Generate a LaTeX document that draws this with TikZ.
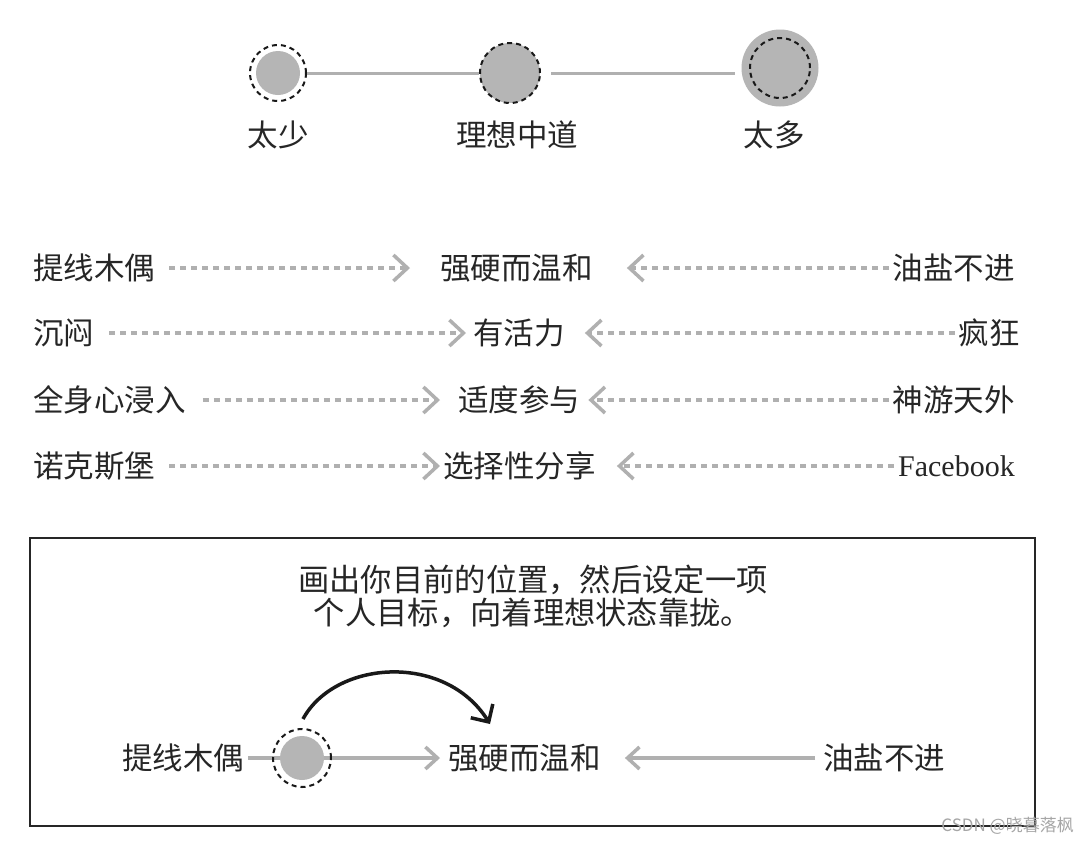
\documentclass[tikz,border=0pt]{standalone}
\usepackage{fontspec}
\setmainfont{Liberation Serif}
\newfontfamily\cjk{Noto Sans CJK SC}
\usetikzlibrary{arrows.meta}
\definecolor{fillg}{HTML}{B5B5B5}
\definecolor{lineg}{HTML}{B0B0B0}
\tikzset{
  txt/.style={inner sep=0pt, font=\cjk\fontsize{30.5}{32}\selectfont, text=black!85},
  dcirc/.style={circle, draw=black!90, dash pattern=on 5pt off 4pt, line width=2pt, inner sep=0pt},
  dasharr/.style={draw=lineg, line width=4.5pt, dash pattern=on 6pt off 5pt,
    -{Straight Barb[length=14pt,width=26pt,line width=3.5pt]}},
  solarr/.style={draw=lineg, line width=3.5pt,
    -{Straight Barb[length=12pt,width=22pt,line width=3.5pt]}},
  conn/.style={draw=lineg, line width=3pt},
}
\begin{document}
\begin{tikzpicture}[x=1pt,y=-1pt]
\useasboundingbox (0,0) rectangle (1090,844);
\fill[white] (0,0) rectangle (1090,844);
% top scale
\fill[fillg] (278,73) circle (22);
\node[dcirc, minimum size=56pt] (tl) at (278,73) {};
\fill[fillg] (510,73) circle (30);
\node[dcirc, minimum size=60pt] (tm) at (510,73) {};
\fill[fillg] (780,68) circle (38.5);
\node[dcirc, minimum size=60pt] (tr) at (780,68) {};
\draw[conn] (tl) -- (tm);
\draw[conn, shorten <=10pt, shorten >=14pt] (tm.east) -- (tm.east -| tr.west);
\node[txt] (ltl) at (278,135) {太少};
\node[txt] (ltm) at (517,135) {理想中道};
\node[txt] (ltr) at (774,135) {太多};
% rows
\node[txt, anchor=west] (l1) at (33,268) {提线木偶};
\node[txt, anchor=west] (c1) at (440,268) {强硬而温和};
\node[txt, anchor=east] (r1) at (1015,268) {油盐不进};
\draw[dasharr, shorten <=14pt, shorten >=30pt] (l1) -- (c1);
\draw[dasharr, shorten <=4pt, shorten >=34pt] (r1) -- (c1);
\node[txt, anchor=west] (l2) at (33,333) {沉闷};
\node[txt, anchor=west] (c2) at (473,333) {有活力};
\node[txt, anchor=east] (r2) at (1020,333) {疯狂};
\draw[dasharr, shorten <=15pt, shorten >=7pt] (l2) -- (c2);
\draw[dasharr, shorten <=4pt, shorten >=20pt] (r2) -- (c2);
\node[txt, anchor=west] (l3) at (33,400) {全身心浸入};
\node[txt, anchor=west] (c3) at (458,400) {适度参与};
\node[txt, anchor=east] (r3) at (1015,400) {神游天外};
\draw[dasharr, shorten <=17pt, shorten >=18pt] (l3) -- (c3);
\draw[dasharr, shorten <=4pt, shorten >=8pt] (r3) -- (c3);
\node[txt, anchor=west] (l4) at (33,466) {诺克斯堡};
\node[txt, anchor=west] (c4) at (443,466) {选择性分享};
\node[txt, anchor=east, font=\fontsize{30}{32}\selectfont] (r4) at (1015,466) {Facebook};
\draw[dasharr, shorten <=14pt, shorten >=3pt] (l4) -- (c4);
\draw[dasharr, shorten <=4pt, shorten >=21pt] (r4) -- (c4);
% box
\node[draw=black!85, line width=2pt, minimum width=1005pt, minimum height=288pt, inner sep=0pt] (box) at (532.5,682) {};
\node[txt, align=center, font=\cjk\fontsize{31.3}{32}\selectfont] (note) at (533,596) {画出你目前的位置，然后设定一项\\[1pt]个人目标，向着理想状态靠拢。};
\node[txt, anchor=west] (l5) at (122,758) {提线木偶};
\node[txt, anchor=west] (c5) at (448,758) {强硬而温和};
\node[txt, anchor=west] (r5) at (823,758) {油盐不进};
\draw[solarr, shorten <=4pt, shorten >=8pt] (l5) -- (c5);
\draw[solarr, shorten <=8pt, shorten >=24pt] (r5) -- (c5);
\fill[fillg] (302,758) circle (22);
\node[dcirc, minimum size=58pt] (me) at (302,758) {};
\coordinate (cs) at (303,719);
\coordinate (ce) at (490,724);
\draw[line width=3.5pt, black!90, -{Straight Barb[length=13pt,width=26pt,line width=3.5pt]}] (cs) .. controls (335,660) and (445,652) .. (ce);
% watermark
\node[inner sep=0pt, anchor=east, text=black!35, font=\cjk\fontsize{17}{18}\selectfont] (wm) at (1074,826) {CSDN @晓暮落枫};
\end{tikzpicture}
\end{document}
